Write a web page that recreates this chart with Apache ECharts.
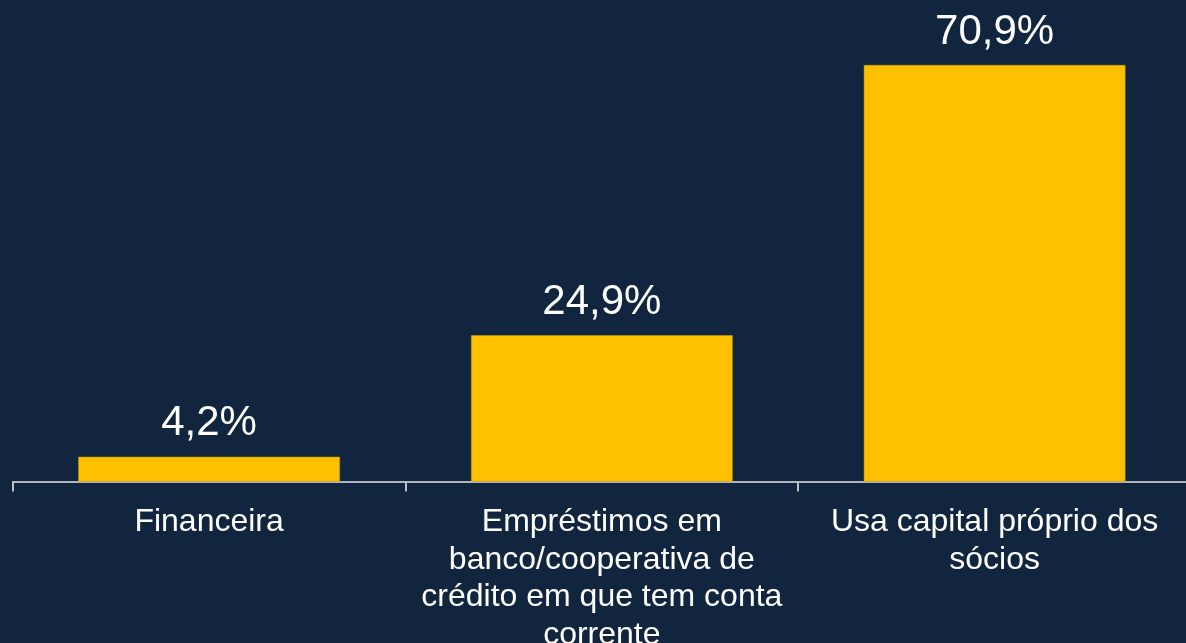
<!DOCTYPE html>
<html>
<head>
<meta charset="utf-8">
<script src="https://cdn.jsdelivr.net/npm/echarts@6/dist/echarts.min.js"></script>
<style>
  html, body { margin: 0; padding: 0; background: #11253f; }
  #chart { width: 1186px; height: 643px; }
</style>
</head>
<body>
<div id="chart"></div>
<script>
// categorias e valores
const categories = [
  'Financeira',
  'Empréstimos em\nbanco/cooperativa de\ncrédito em que tem conta\ncorrente',
  'Usa capital próprio dos\nsócios'
];
const values = [4.2, 24.9, 70.9];

const chart = echarts.init(document.getElementById('chart'));

chart.setOption({
  backgroundColor: '#11253f',
  animation: false,
  grid: { left: 12.7, right: -5, top: 65, bottom: 161.5, outerBoundsMode: 'none', containLabel: false },
  xAxis: {
    type: 'category',
    data: categories,
    axisLine: { lineStyle: { color: '#e6e6e6', width: 1.5 } },
    axisTick: { show: true, length: 10, lineStyle: { color: '#bfbfbf', width: 2 } },
    axisLabel: {
      color: '#ffffff',
      fontFamily: 'Liberation Sans, Arial, sans-serif',
      fontSize: 32,
      lineHeight: 37.5,
      margin: 22,
      interval: 0,
      align: 'center'
    }
  },
  yAxis: {
    type: 'value',
    min: 0,
    max: 'dataMax',
    show: false,
    splitLine: { show: false }
  },
  series: [{
    type: 'bar',
    data: values,
    barCategoryGap: '33.4%',
    itemStyle: { color: '#ffc000', borderColor: '#c9a000', borderWidth: 0.5 },
    label: {
      show: true,
      position: 'top',
      distance: 12,
      color: '#ffffff',
      fontFamily: 'Liberation Sans, Arial, sans-serif',
      fontSize: 42,
      formatter: p => p.value.toFixed(1).replace('.', ',') + '%'
    }
  }]
});
</script>
</body>
</html>
